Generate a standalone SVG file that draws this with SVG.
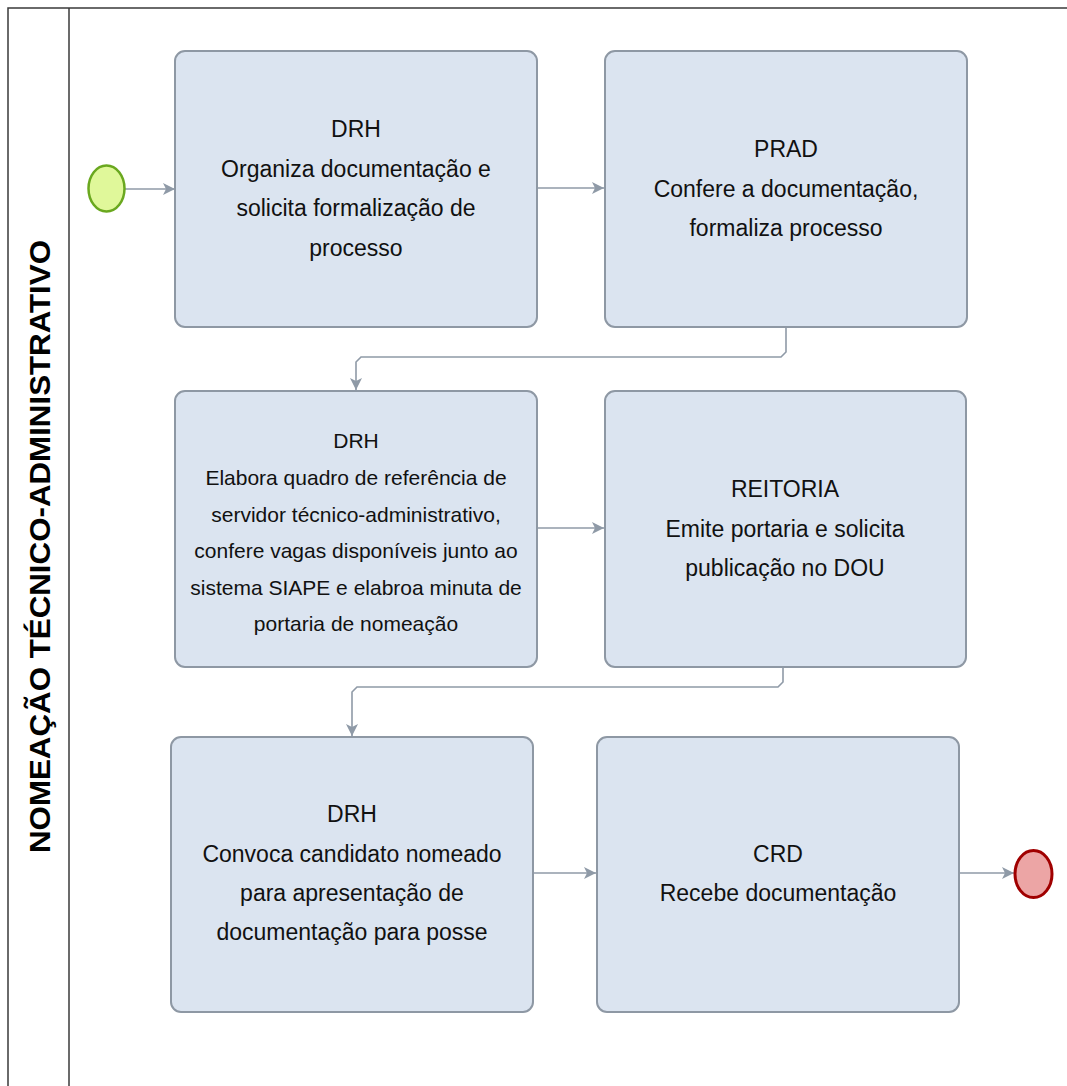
<svg xmlns="http://www.w3.org/2000/svg" width="1067" height="1086" viewBox="0 0 1067 1086">
  <style>
    .task { fill: #dbe4f0; stroke: #8e98a4; stroke-width: 2; }
    .lbl { font-family: "Liberation Sans", Arial, sans-serif; font-size: 23px; fill: #111; text-anchor: middle; }
    .lbl.sm { font-size: 21px; }
    .conn { fill: none; stroke: #8f9aa7; stroke-width: 1.6; marker-end: url(#arr); }
    .pool { fill: none; stroke: #3a3a3a; stroke-width: 1.5; }
    .title { font-family: "Liberation Sans", Arial, sans-serif; font-size: 29px; font-weight: bold; fill: #000; text-anchor: middle; }
  </style>
  <defs>
    <marker id="arr" viewBox="0 0 12 12" refX="12" refY="6" markerWidth="12" markerHeight="12" markerUnits="userSpaceOnUse" orient="auto">
      <path d="M0,0 L12,6 L0,12 L3,6 Z" fill="#8f9aa7"/>
    </marker>
  </defs>
  <rect x="0" y="0" width="1067" height="1086" fill="#ffffff"/>

  <g id="pool">
    <path class="pool" d="M8,1086 V8 H1067"/>
    <line class="pool" x1="69" y1="8" x2="69" y2="1086"/>
    <text class="title" transform="translate(50,546.5) rotate(-90)" textLength="613" lengthAdjust="spacingAndGlyphs">NOMEAÇÃO TÉCNICO-ADMINISTRATIVO</text>
  </g>

  <g id="connectors">
    <line class="conn" x1="125" y1="189" x2="175" y2="189"/>
    <line class="conn" x1="537" y1="188" x2="604" y2="188"/>
    <path class="conn" d="M786,327 V352 L781,357 H361 L356,362 V390"/>
    <line class="conn" x1="537" y1="528" x2="604" y2="528"/>
    <path class="conn" d="M783,667 V682 L778,687 H357 L352,692 V736"/>
    <line class="conn" x1="533" y1="873" x2="596" y2="873"/>
    <line class="conn" x1="959" y1="873" x2="1014" y2="873"/>
  </g>

  <g id="start">
    <ellipse cx="106.5" cy="188.5" rx="18" ry="23" fill="#e0f89a" stroke="#6aa81f" stroke-width="2.5"/>
  </g>

  <g id="task-a">
    <rect class="task" x="175" y="51" width="362" height="276" rx="10"/>
    <text class="lbl" x="356" y="137">DRH</text>
    <text class="lbl" x="356" y="176.5">Organiza documentação e</text>
    <text class="lbl" x="356" y="216">solicita formalização de</text>
    <text class="lbl" x="356" y="255.5">processo</text>
  </g>

  <g id="task-b">
    <rect class="task" x="605" y="51" width="362" height="276" rx="10"/>
    <text class="lbl" x="786" y="157">PRAD</text>
    <text class="lbl" x="786" y="196.5">Confere a documentação,</text>
    <text class="lbl" x="786" y="236">formaliza processo</text>
  </g>

  <g id="task-c">
    <rect class="task" x="175" y="391" width="362" height="276" rx="10"/>
    <text class="lbl sm" x="356" y="448">DRH</text>
    <text class="lbl sm" x="356" y="485">Elabora quadro de referência de</text>
    <text class="lbl sm" x="356" y="521.5">servidor técnico-administrativo,</text>
    <text class="lbl sm" x="356" y="558">confere vagas disponíveis junto ao</text>
    <text class="lbl sm" x="356" y="594.5">sistema SIAPE e elabroa minuta de</text>
    <text class="lbl sm" x="356" y="631">portaria de nomeação</text>
  </g>

  <g id="task-d">
    <rect class="task" x="605" y="391" width="361" height="276" rx="10"/>
    <text class="lbl" x="785" y="497">REITORIA</text>
    <text class="lbl" x="785" y="536.5">Emite portaria e solicita</text>
    <text class="lbl" x="785" y="575.5">publicação no DOU</text>
  </g>

  <g id="task-e">
    <rect class="task" x="171" y="737" width="362" height="275" rx="10"/>
    <text class="lbl" x="352" y="822">DRH</text>
    <text class="lbl" x="352" y="861.5">Convoca candidato nomeado</text>
    <text class="lbl" x="352" y="900.5">para apresentação de</text>
    <text class="lbl" x="352" y="940">documentação para posse</text>
  </g>

  <g id="task-f">
    <rect class="task" x="597" y="737" width="362" height="275" rx="10"/>
    <text class="lbl" x="778" y="862">CRD</text>
    <text class="lbl" x="778" y="901">Recebe documentação</text>
  </g>

  <g id="end">
    <ellipse cx="1033.5" cy="874" rx="18.5" ry="23.5" fill="#eca5a5" stroke="#a00000" stroke-width="3"/>
  </g>
</svg>
